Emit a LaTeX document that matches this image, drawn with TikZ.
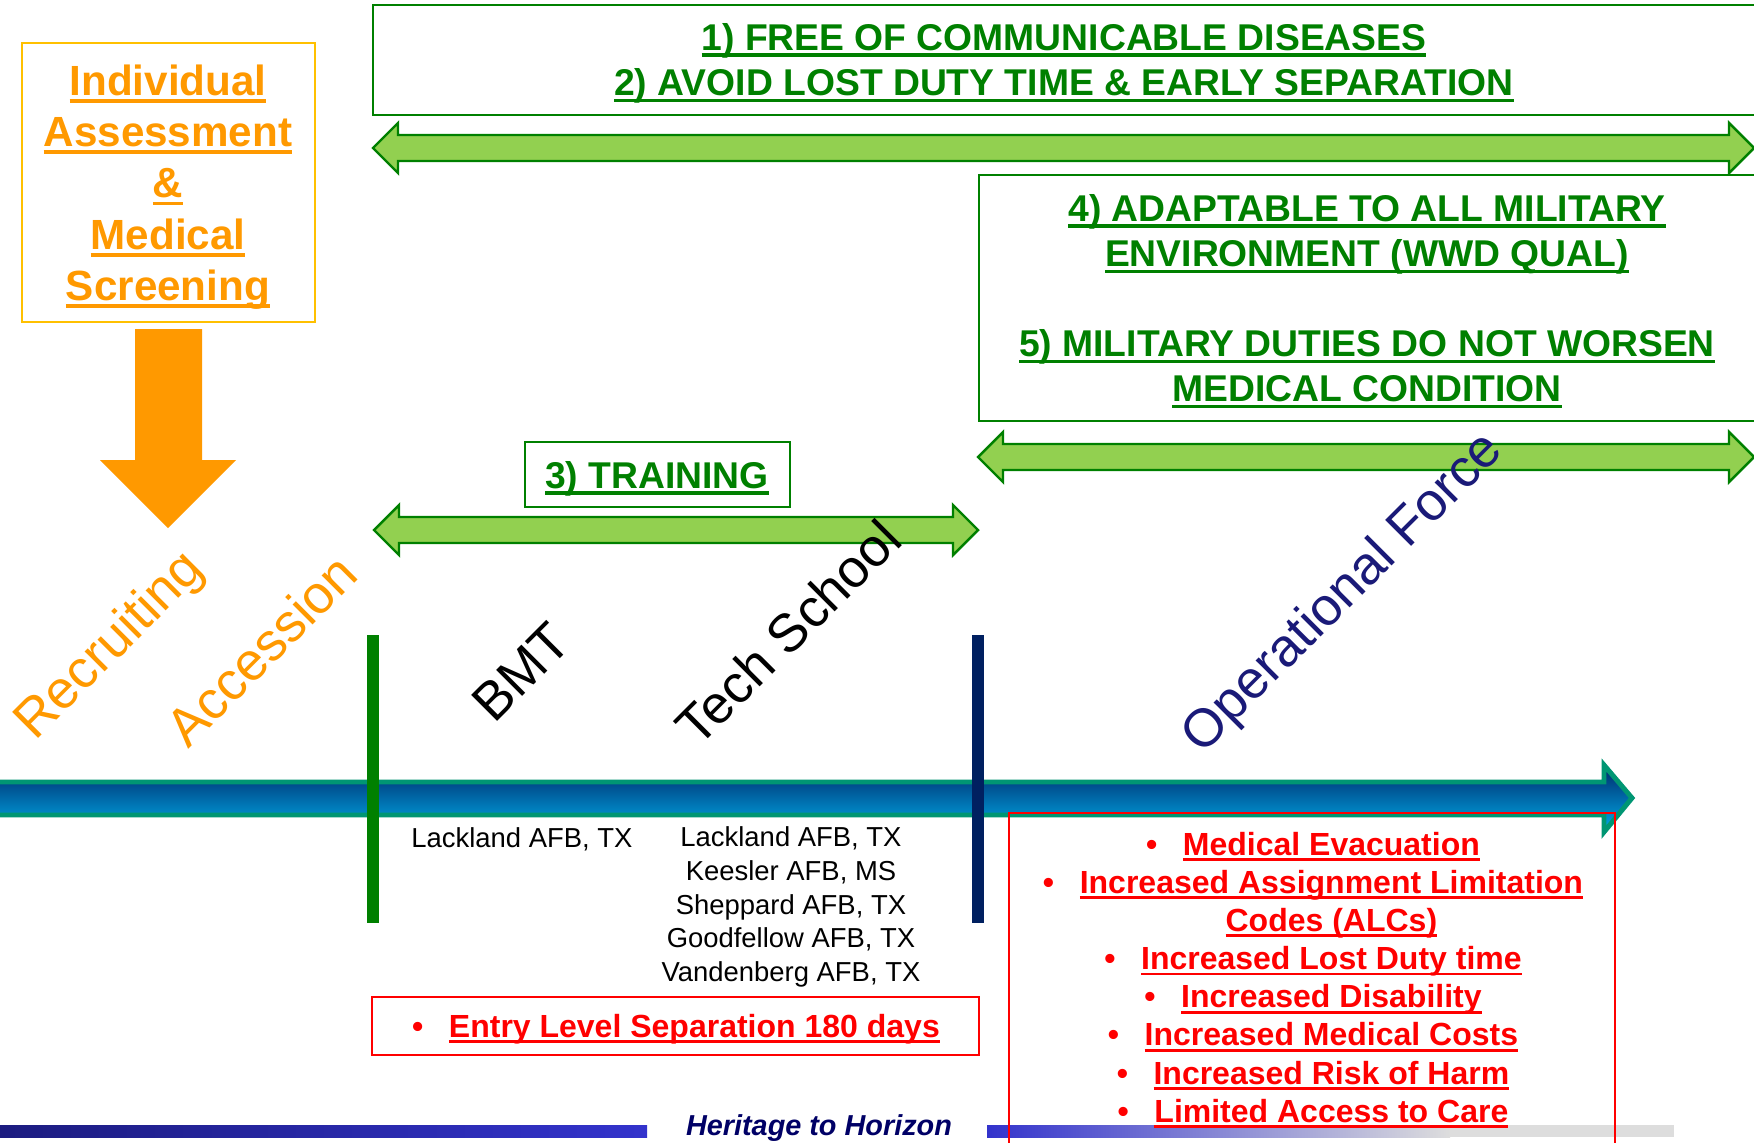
\documentclass[tikz,border=0pt]{standalone}
\usepackage{fontspec}
\setmainfont{Liberation Sans}
\usepackage{tikz}
\usepackage{xcolor}

\definecolor{orng}{RGB}{255,153,0}
\definecolor{orngline}{RGB}{255,192,0}
\definecolor{grntext}{RGB}{0,128,0}
\definecolor{grnfill}{RGB}{146,208,80}
\definecolor{barnavy}{RGB}{0,32,96}
\definecolor{opblue}{RGB}{26,26,120}
\definecolor{arrowteal}{RGB}{0,150,115}
\definecolor{shaftdark}{RGB}{0,40,104}
\definecolor{shaftlight}{RGB}{0,172,234}
\definecolor{bardark}{RGB}{28,28,128}
\definecolor{barblue}{RGB}{51,51,204}
\definecolor{bargray}{RGB}{221,221,221}
\definecolor{mottoblue}{RGB}{0,0,102}

\newcommand{\undl}[1]{\setbox0\hbox{#1}\rlap{\rule[-0.18em]{\wd0}{0.09em}}\box0}
\newcommand{\itm}[1]{\textbullet\hspace{0.8em}\undl{#1}}

\begin{document}
\begin{tikzpicture}[x=0.01cm,y=-0.01cm,
	gbox/.style={draw=grntext,line width=0.6pt},
	dblarrow/.style={draw=grntext,fill=grnfill,line width=0.7pt,line join=miter},
	goal/.style={text=grntext,font=\bfseries\fontsize{10.6}{12.8}\selectfont,align=center,inner sep=0pt},
	slant/.style={rotate=45,font=\fontsize{15.2}{18}\selectfont,inner sep=0pt},
	afb/.style={font=\fontsize{7.8}{9.6}\selectfont,align=center,inner sep=0pt},
	risk/.style={text=red,font=\bfseries\fontsize{9.1}{10.85}\selectfont,align=center,inner sep=0pt}]
	\useasboundingbox (0,0) rectangle (1754,1142);
	\fill[white] (0,0) rectangle (1754,1142);

	\shade[left color=bardark,right color=barblue] (0,1125) rectangle (647,1137);
	\shade[left color=barblue,right color=bargray] (987,1125) rectangle (1450,1137);
	\fill[bargray] (1449,1125) rectangle (1674,1137);

	\draw[orngline,line width=0.6pt] (22,43) rectangle (315,322);
	\node[text=orng,font=\bfseries\fontsize{12}{14.6}\selectfont,align=center,inner sep=0pt] (indiv) at (168,187)
		{\undl{Individual}\\\undl{Assessment}\\\undl{\&}\\\undl{Medical}\\\undl{Screening}};
	\fill[orng] (135,329) -- (202,329) -- (202,460) -- (236,460) -- (168,528) -- (100,460) -- (135,460) -- cycle;

	\draw[gbox] (373,5) rectangle (1765,115);
	\node[goal] (goal12) at (1064,63) {\undl{1) FREE OF COMMUNICABLE DISEASES}\\\undl{2) AVOID LOST DUTY TIME \& EARLY SEPARATION}};
	\draw[gbox] (979,175) rectangle (1765,421);
	\node[goal] (goal45) at (1367,301) {\undl{4) ADAPTABLE TO ALL MILITARY}\\\undl{ENVIRONMENT (WWD QUAL)}\\[12.8pt]\undl{5) MILITARY DUTIES DO NOT WORSEN}\\\undl{MEDICAL CONDITION}};
	\draw[gbox] (525,442) rectangle (790,507);
	\node[goal,anchor=base] (train) at (657,488) {\undl{3) TRAINING}};

	\foreach \xa/\xb/\ym in {373/1754/148, 978/1754/457, 374/978/530} {
		\draw[dblarrow] (\xa,\ym) -- (\xa+25,\ym-25) -- (\xa+25,\ym-13) -- (\xb-25,\ym-13) -- (\xb-25,\ym-25) -- (\xb,\ym)
			-- (\xb-25,\ym+25) -- (\xb-25,\ym+13) -- (\xa+25,\ym+13) -- (\xa+25,\ym+25) -- cycle;
	}

	\draw[arrowteal,line width=1.4pt,line join=miter,top color=shaftdark,bottom color=shaftlight]
		(-10,782) -- (1604,782) -- (1604,765) -- (1632,798) -- (1604,832) -- (1604,815) -- (-10,815) -- cycle;
	\draw[grntext,line width=3.2pt] (373,635) -- (373,923);
	\draw[barnavy,line width=3.2pt] (978,635) -- (978,923);

	\draw[red,line width=0.7pt] (372,997) rectangle (979,1055);
	\node[risk,anchor=base] (els) at (676,1037) {\itm{Entry Level Separation 180 days}};
	\draw[red,line width=0.45pt] (1009,813) rectangle (1615,1160);
	\node[risk] (risks) at (1313,980) {\itm{Medical Evacuation}\\\itm{Increased Assignment Limitation}\\
		\hphantom{\textbullet\hspace{0.8em}}\undl{Codes (ALCs)}\\\itm{Increased Lost Duty time}\\\itm{Increased Disability}\\
		\itm{Increased Medical Costs}\\\itm{Increased Risk of Harm}\\\itm{Limited Access to Care}};

	\node[slant,text=orng] (recr) at (111,647) {Recruiting};
	\node[slant,text=orng] (acc) at (261,650) {Accession};
	\node[slant] (bmt) at (521,672) {BMT};
	\node[slant] (tech) at (788,632) {Tech School};
	\node[slant,text=opblue] (opforce) at (1344,594) {Operational Force};

	\node[afb,anchor=base] (lackbmt) at (522,847) {Lackland AFB, TX};
	\node[afb] (afbs) at (791,907) {Lackland AFB, TX\\Keesler AFB, MS\\Sheppard AFB, TX\\Goodfellow AFB, TX\\Vandenberg AFB, TX};

	\node[text=mottoblue,font=\bfseries\itshape\fontsize{8.2}{10}\selectfont,anchor=base,inner sep=0pt] (motto) at (819,1135) {Heritage to Horizon};
\end{tikzpicture}
\end{document}
